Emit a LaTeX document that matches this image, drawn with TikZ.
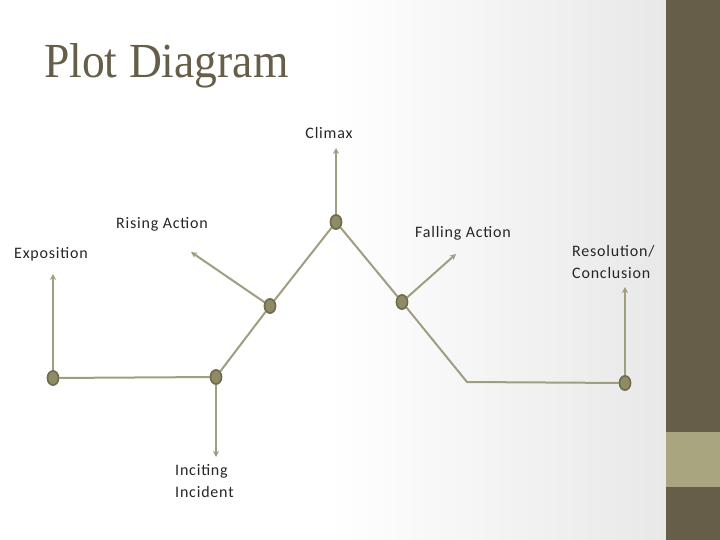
\documentclass[tikz,border=0pt]{standalone}
\usepackage{fontspec}
\setmainfont{Carlito}[LetterSpace=5]
\newfontfamily\titlefont{Liberation Serif}
\usetikzlibrary{shapes.geometric,arrows.meta}
\definecolor{sidebar}{HTML}{665E48}
\definecolor{band}{HTML}{A8A57F}
\definecolor{linec}{HTML}{A09E80}
\definecolor{dotfill}{HTML}{8E8B65}
\definecolor{dotdraw}{HTML}{6E6B4E}
\definecolor{txt}{HTML}{262626}
\tikzset{
  pt/.style={ellipse, minimum width=11pt, minimum height=14pt, inner sep=0pt, fill=dotfill, draw=dotdraw, line width=1.5pt},
  conn/.style={draw=linec, line width=2pt},
  arr/.style={draw=linec, line width=2pt, -{Stealth[length=6pt,width=6pt]}},
  lbl/.style={font=\fontsize{16}{22}\selectfont, text=txt, inner sep=0pt, align=left}
}
\begin{document}
\begin{tikzpicture}[x=1pt,y=-1pt]
\useasboundingbox (0,0) rectangle (720,540);
\fill[white] (0,0) rectangle (666,540);
\shade[left color=white, right color=black!9, shading angle=90] (330,0) rectangle (666,540);
\fill[sidebar] (666,0) rectangle (720,540);
\fill[band] (666,432) rectangle (720,487);
\node[anchor=west, inner sep=0pt, text=sidebar] (title) at (44,66) {\titlefont\fontsize{49}{52}\selectfont\scalebox{0.93}[1]{Plot Diagram}};

\node[pt] (expo) at (53,378) {};
\node[pt] (inc) at (216,377) {};
\node[pt] (rise) at (270,306) {};
\node[pt] (clim) at (336,222) {};
\node[pt] (fall) at (402,302) {};
\node[pt] (res) at (625,383) {};
\coordinate (bend) at (467,382);

\coordinate (expoA) at (53,274);
\coordinate (incA) at (216,457);
\coordinate (riseA) at (191,252);
\coordinate (climA) at (336,148);
\coordinate (fallA) at (456,254);
\coordinate (resA) at (625,287);

\draw[conn] (expo) -- (inc);
\draw[conn] (inc) -- (rise);
\draw[conn] (rise) -- (clim);
\draw[conn] (clim) -- (fall);
\draw[conn] (fall) -- (bend) -- (res);

\draw[arr] (expo) -- (expoA);
\draw[arr] (inc) -- (incA);
\draw[arr] (rise) -- (riseA);
\draw[arr] (clim) -- (climA);
\draw[arr] (fall) -- (fallA);
\draw[arr] (res) -- (resA);

\node[pt] at (expo) {};
\node[pt] at (inc) {};
\node[pt] at (rise) {};
\node[pt] at (clim) {};
\node[pt] at (fall) {};
\node[pt] at (res) {};

\node[lbl] (lexpo) at (51,254) {Exposition};
\node[lbl] (lrise) at (162,224) {Rising Action};
\node[lbl] (lclim) at (329,133) {Climax};
\node[lbl] (lfall) at (463,233) {Falling Action};
\node[lbl, anchor=west] (lres) at (572,262) {Resolution/\\Conclusion};
\node[lbl, anchor=west] (linc) at (175,481) {Inciting\\Incident};
\end{tikzpicture}
\end{document}
